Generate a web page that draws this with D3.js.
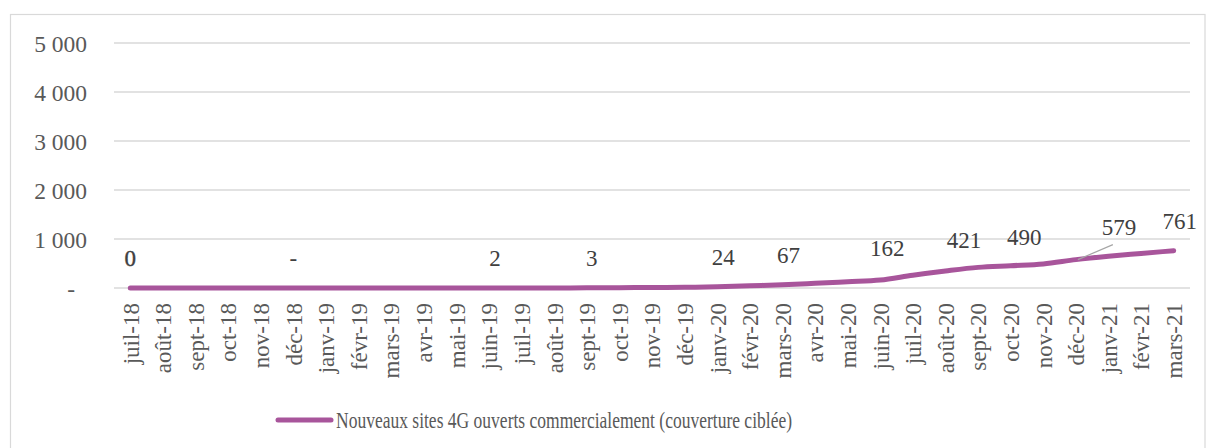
<!DOCTYPE html>
<html>
<head>
<meta charset="utf-8">
<script src="https://cdn.jsdelivr.net/npm/d3@7"></script>
<style>
  body { margin: 0; background: #fff; }
  svg { display: block; }
  text { font-family: "Liberation Serif", "Times New Roman", serif; }
</style>
</head>
<body>
<svg id="chart" width="1206" height="448"></svg>
<script>
// Monthly categories
const months = [
  "juil-18", "août-18", "sept-18", "oct-18", "nov-18", "déc-18",
  "janv-19", "févr-19", "mars-19", "avr-19", "mai-19", "juin-19",
  "juil-19", "août-19", "sept-19", "oct-19", "nov-19", "déc-19",
  "janv-20", "févr-20", "mars-20", "avr-20", "mai-20", "juin-20",
  "juil-20", "août-20", "sept-20", "oct-20", "nov-20", "déc-20",
  "janv-21", "févr-21", "mars-21"
];

// Cumulative count of new 4G sites opened commercially
const sites = [
  0, 0, 0, 0, 0, 0,
  0, 0, 0, 0, 0, 2,
  2, 2, 3, 6, 10, 15,
  24, 45, 67, 96, 128, 162,
  262, 348, 421, 455, 490, 579,
  648, 705, 761
];

// Data labels shown on the line (null = no label)
const pointLabels = [
  "0", null, null, null, null, "-",
  null, null, null, null, null, "2",
  null, null, "3", null, null, null,
  "24", null, "67", null, null, "162",
  null, null, "421", null, "490", "579",
  null, null, "761"
];

const yTicks = [0, 1000, 2000, 3000, 4000, 5000];
const seriesName = "Nouveaux sites 4G ouverts commercialement (couverture ciblée)";

const svg = d3.select("#chart");
const W = 1206, H = 448;
const plot = { left: 114, right: 1190, top: 43, bottom: 288 };

const lineColor = "#a8559b";
const gridColor = "#d9d9d9";
const textColor = "#404040";
const serif = "'Liberation Serif', 'Times New Roman', serif";

// Outer frame
svg.append("rect")
  .attr("x", 10.5).attr("y", 14.5)
  .attr("width", W - 11.5).attr("height", H)
  .attr("fill", "#fff")
  .attr("stroke", gridColor)
  .attr("stroke-width", 1.2);

const x = d3.scalePoint()
  .domain(months)
  .range([plot.left, plot.right])
  .padding(0.5);

const y = d3.scaleLinear()
  .domain([0, 5000])
  .range([plot.bottom, plot.top]);

// Horizontal gridlines
svg.append("g")
  .selectAll("line")
  .data(yTicks)
  .join("line")
  .attr("x1", plot.left).attr("x2", plot.right)
  .attr("y1", d => y(d)).attr("y2", d => y(d))
  .attr("stroke", gridColor)
  .attr("stroke-width", 1.6);

// Y axis labels (French thousands separator, dash for zero)
const fmt = d => d === 0 ? "-" : d3.format(",")(d).replace(/,/g, " ");
const yAxis = d3.axisLeft(y).tickValues(yTicks).tickFormat(fmt).tickSize(0).tickPadding(0);
const gy = svg.append("g")
  .attr("transform", "translate(87,0)")
  .call(yAxis);
gy.select(".domain").remove();
gy.selectAll("text")
  .attr("fill", "#595959")
  .attr("font-size", "23.5px")
  .attr("font-family", serif)
  .attr("dy", "0.34em")
  .attr("dx", d => d === 0 ? -12 : 0);

// X axis labels, rotated
const xAxis = d3.axisBottom(x).tickSize(0).tickPadding(0);
const gx = svg.append("g")
  .attr("transform", `translate(0,${plot.bottom + 15})`)
  .call(xAxis);
gx.select(".domain").remove();
gx.selectAll("text")
  .attr("fill", "#595959")
  .attr("font-size", "23px")
  .attr("font-family", serif)
  .attr("transform", "rotate(-90)")
  .attr("text-anchor", "end")
  .attr("x", 0)
  .attr("y", 0)
  .attr("dy", "0.34em");

// Series line
const line = d3.line()
  .x((d, i) => x(months[i]))
  .y(d => y(d))
  .curve(d3.curveMonotoneX);

svg.append("path")
  .datum(sites)
  .attr("d", line)
  .attr("fill", "none")
  .attr("stroke", lineColor)
  .attr("stroke-width", 5)
  .attr("stroke-linecap", "round")
  .attr("stroke-linejoin", "round");

// Label nudges so values do not collide with the line
const nudge = {
  "juin-19": [6, 0], "sept-19": [5, 0], "janv-20": [6, 0], "mars-20": [6, 0],
  "juin-20": [7, -2], "sept-20": [-14, 3], "nov-20": [-19, 3],
  "déc-20": [43, -2], "mars-21": [6, 0]
};

const labelData = months
  .map((m, i) => ({ m, v: sites[i], t: pointLabels[i] }))
  .filter(d => d.t !== null);

// Leader line for the moved december label
const dec = labelData.find(d => d.m === "déc-20");
svg.append("line")
  .attr("x1", x(dec.m) + 2).attr("y1", y(dec.v))
  .attr("x2", x(dec.m) + 37).attr("y2", y(dec.v) - 15)
  .attr("stroke", "#a6a6a6")
  .attr("stroke-width", 1.2);

svg.append("g")
  .selectAll("text")
  .data(labelData)
  .join("text")
  .attr("x", d => x(d.m) + (nudge[d.m] ? nudge[d.m][0] : 0))
  .attr("y", d => y(d.v) - 30 + (nudge[d.m] ? nudge[d.m][1] : 0))
  .attr("dy", "0.34em")
  .attr("text-anchor", "middle")
  .attr("font-size", "23px")
  .attr("font-family", serif)
  .attr("fill", textColor)
  .attr("stroke", d => d.m === "juil-18" ? textColor : "none")
  .attr("stroke-width", 0.4)
  .text(d => d.t);

// Legend
const legend = svg.append("g").attr("transform", "translate(276,420)");
legend.append("line")
  .attr("x1", 2).attr("x2", 55)
  .attr("y1", 0).attr("y2", 0)
  .attr("stroke", lineColor)
  .attr("stroke-width", 5)
  .attr("stroke-linecap", "round");
legend.append("text")
  .attr("x", 60)
  .attr("y", 7.5)
  .attr("font-size", "23px")
  .attr("font-family", serif)
  .attr("fill", "#595959")
  .attr("textLength", 456)
  .attr("lengthAdjust", "spacingAndGlyphs")
  .text(seriesName);
</script>
</body>
</html>
